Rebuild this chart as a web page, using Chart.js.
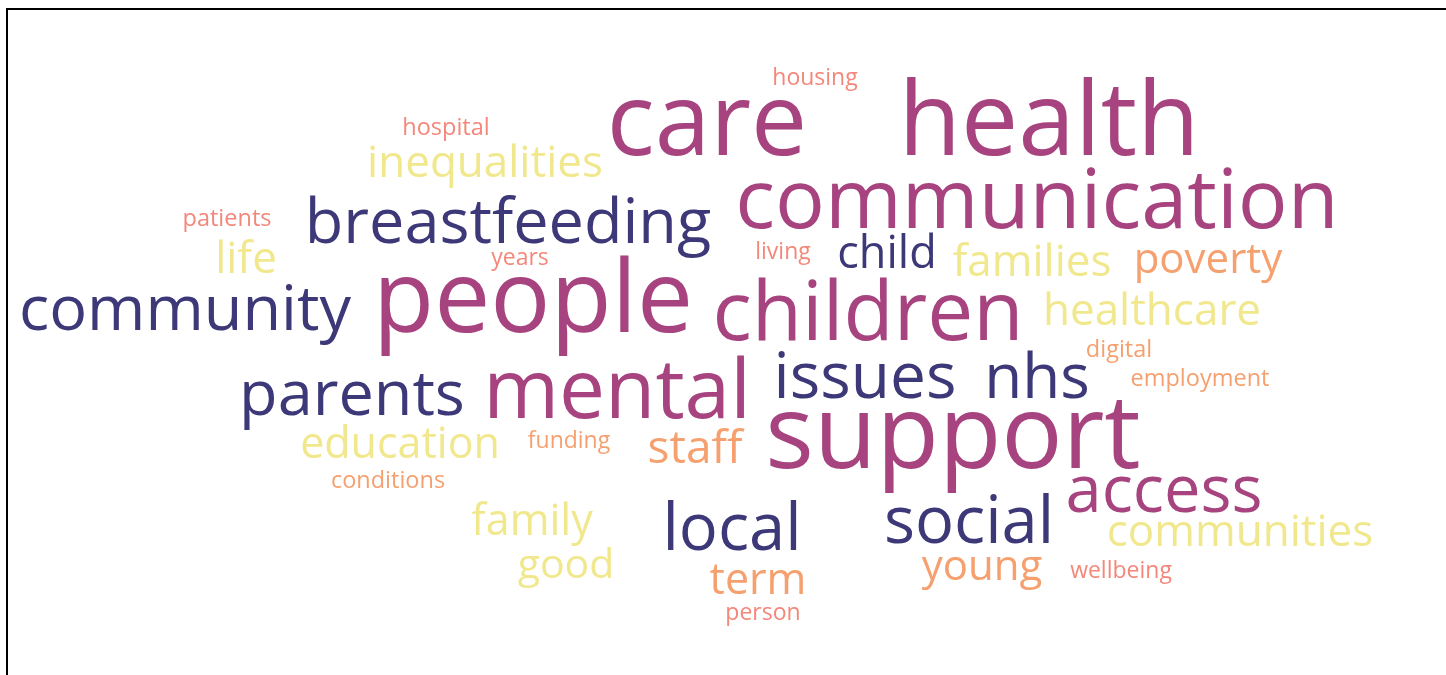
<!DOCTYPE html>
<html>
<head>
<meta charset="utf-8">
<script src="https://cdn.jsdelivr.net/npm/chart.js@4"></script>
<style>
  html, body { margin: 0; padding: 0; background: #fff; overflow: hidden; }
  .wrap { position: relative; width: 1446px; height: 675px; }
</style>
</head>
<body>
<div class="wrap">
  <canvas id="myChart"></canvas>
</div>
<script>
// words of the cloud
var words = ["housing", "hospital", "care", "health", "inequalities", "communication",
  "patients", "breastfeeding", "life", "years", "living", "child", "families", "poverty",
  "community", "people", "children", "healthcare", "digital", "issues", "nhs", "employment",
  "parents", "mental", "education", "funding", "staff", "support", "conditions", "access",
  "family", "local", "social", "communities", "good", "term", "young", "wellbeing", "person"];
// word weight (drives font size)
var counts = [46, 47, 200, 204, 88, 166,
  47, 126, 88, 46, 46, 90, 88, 84,
  126, 200, 164, 88, 47, 128, 124, 47,
  126, 164, 86, 46, 92, 204, 47, 130,
  86, 130, 130, 88, 82, 86, 84, 46, 46];
// colour group of each word (0 navy, 1 magenta, 2 salmon, 3 orange, 4 yellow)
var groups = [2, 2, 1, 1, 4, 1,
  2, 0, 4, 2, 2, 0, 4, 3,
  0, 1, 1, 4, 3, 0, 0, 3,
  0, 1, 4, 3, 3, 1, 3, 1,
  4, 0, 0, 4, 4, 3, 3, 2, 2];
// layout position of each word (x centre, baseline y)
var xs = [815, 446, 707, 1049, 485, 1037,
  227, 508, 246, 520, 783, 887, 1032, 1208,
  185, 533, 868, 1152, 1119, 865, 1037, 1200,
  352, 617, 400, 569, 695, 953, 388, 1164,
  532, 732, 969, 1240, 566, 758, 982, 1121, 763];
var ys = [85, 135, 155, 155, 177, 228,
  226, 243, 273, 265, 259, 268, 276, 273,
  330, 332, 340, 325, 357, 398, 398, 386,
  415, 418, 458, 448, 463, 468, 488, 512,
  535, 550, 543, 546, 578, 594, 580, 578, 620];

var palette = ["#3d3877", "#a7437f", "#f4877a", "#f5a06e", "#f1e88d"];

// thin black frame on the left and top edges
var framePlugin = {
  id: 'frame',
  beforeDraw: function(chart) {
    var c = chart.ctx;
    c.save();
    c.fillStyle = '#000';
    c.fillRect(6, 8, 2, chart.height - 8);
    c.fillRect(6, 8, chart.width - 6, 2);
    c.restore();
  }
};

var wordPlugin = {
  id: 'wordText',
  afterDatasetsDraw: function(chart) {
    var c = chart.ctx;
    var meta = chart.getDatasetMeta(0);
    c.save();
    c.textAlign = 'center';
    c.textBaseline = 'alphabetic';
    meta.data.forEach(function(pt, i) {
      c.font = (counts[i] / 2) + 'px "Open Sans"';
      c.fillStyle = palette[groups[i]];
      c.fillText(words[i], pt.x, pt.y);
    });
    c.restore();
  }
};

var ctx = document.getElementById("myChart").getContext('2d');
var myChart = new Chart(ctx, {
  type: 'scatter',
  data: {
    labels: words,
    datasets: [{
      data: xs.map(function(x, i) { return { x: x, y: ys[i] }; }),
      pointRadius: 0,
      pointHoverRadius: 0
    }]
  },
  options: {
    responsive: true,
    maintainAspectRatio: false,
    animation: false,
    layout: { padding: 0 },
    plugins: { legend: { display: false }, tooltip: { enabled: false } },
    scales: {
      x: { type: 'linear', min: 0, max: 1446, display: false },
      y: { type: 'linear', min: 0, max: 675, reverse: true, display: false }
    }
  },
  plugins: [framePlugin, wordPlugin]
});
</script>
</body>
</html>
